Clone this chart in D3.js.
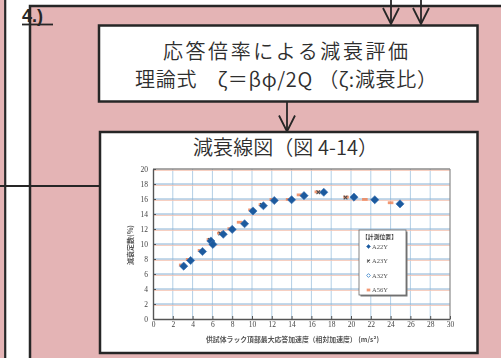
<!DOCTYPE html>
<html>
<head>
<meta charset="utf-8">
<script src="https://cdn.jsdelivr.net/npm/d3@7"></script>
<style>
  html, body { margin: 0; padding: 0; background: #fff; }
  svg { display: block; }
</style>
</head>
<body>
<svg id="fig" width="501" height="358"></svg>
<script>
// ---- chart data: damping ratio vs. peak response acceleration ----
const xTickValues = [0, 2, 4, 6, 8, 10, 12, 14, 16, 18, 20, 22, 24, 26, 28, 30];
const yTickValues = [0, 2, 4, 6, 8, 10, 12, 14, 16, 18, 20];

const seriesNames = ["A22Y", "A23Y", "A32Y", "A56Y"];

const a22yX = [3.1, 3.8, 5.0, 5.85, 6.05, 7.1, 8.0, 9.25, 10.1, 11.15, 12.25, 14.0, 15.25, 17.25, 20.3, 22.4, 24.95];
const a22yY = [7.05, 7.8, 9.0, 10.4, 9.95, 11.3, 11.95, 12.7, 14.4, 15.1, 15.8, 15.9, 16.45, 16.9, 16.25, 15.9, 15.35];

const a23yX = [5.75, 6.8, 11.0, 16.7, 19.45];
const a23yY = [10.55, 11.4, 15.2, 16.9, 16.2];

const a32yX = [3.1, 6.0, 10.1, 15.3, 22.4];
const a32yY = [7.0, 10.0, 14.35, 16.45, 15.85];

const a56yX = [2.9, 3.6, 4.8, 5.7, 6.75, 7.8, 8.75, 9.9, 10.95, 12.05, 13.7, 14.8, 16.6, 19.5, 21.4, 24.0];
const a56yY = [7.2, 7.95, 9.15, 10.6, 11.45, 12.05, 12.9, 14.55, 15.25, 15.95, 15.95, 16.55, 16.95, 16.25, 15.95, 15.5];

// ---- flowchart texts ----
const stepLabel = "4.)";
const box1Lines = ["応答倍率による減衰評価", "理論式　ζ＝βφ/2Q （ζ:減衰比）"];
const box2Title = "減衰線図（図 4-14）";
const yAxisTitle = "減衰定数(%)";
const xAxisTitle = "供試体ラック頂部最大応答加速度（相対加速度） (m/s²)";
const legendTitle = "【計測位置】";

const PINK = "#e4b4b5";
const INK = "#262626";
const CJK = "'Noto Sans CJK JP', 'Noto Sans', sans-serif";

const svg = d3.select("#fig");
const defs = svg.append("defs");
defs.append("filter").attr("id", "soft")
  .attr("x", "-5%").attr("y", "-5%").attr("width", "110%").attr("height", "110%")
  .append("feGaussianBlur").attr("stdDeviation", 0.45);

svg.append("rect").attr("width", 501).attr("height", 358).attr("fill", "#fff");

// ---- flowchart frame ----
svg.append("rect").attr("x", 0).attr("y", 0).attr("width", 4.5).attr("height", 358).attr("fill", PINK);
svg.append("rect").attr("x", 30).attr("y", 6).attr("width", 480).attr("height", 360)
  .attr("fill", PINK).attr("stroke", INK).attr("stroke-width", 2.5);
svg.append("line").attr("x1", 5.2).attr("x2", 5.2).attr("y1", 0).attr("y2", 358)
  .attr("stroke", INK).attr("stroke-width", 2.2);
svg.append("line").attr("x1", 0).attr("x2", 100).attr("y1", 186).attr("y2", 186)
  .attr("stroke", INK).attr("stroke-width", 2);

// step label
svg.append("text").attr("x", 22).attr("y", 21.5)
  .attr("font-family", "'Liberation Sans', Arial, sans-serif").attr("font-weight", "bold")
  .attr("font-size", 18).attr("fill", INK).text(stepLabel);
svg.append("line").attr("x1", 22).attr("x2", 53).attr("y1", 24.5).attr("y2", 24.5)
  .attr("stroke", INK).attr("stroke-width", 1.8);

// arrows
function arrow(x, y0, y1) {
  svg.append("line").attr("x1", x).attr("x2", x).attr("y1", y0).attr("y2", y1)
    .attr("stroke", INK).attr("stroke-width", 1.8);
  svg.append("path")
    .attr("d", `M${x - 8},${y1 - 16} L${x},${y1} L${x + 8},${y1 - 16}`)
    .attr("fill", "none").attr("stroke", INK).attr("stroke-width", 1.8);
}
arrow(391, 0, 24);
arrow(421, 0, 24);
arrow(287, 102, 131.5);

// box 1
svg.append("rect").attr("x", 99).attr("y", 25.5).attr("width", 378.5).attr("height", 76)
  .attr("fill", "#fff").attr("stroke", INK).attr("stroke-width", 2.5);
const box1Spans = [[163, 245, 58.5], [135, 302, 86.5]];
box1Lines.forEach((t, i) => {
  svg.append("text").attr("x", box1Spans[i][0]).attr("y", box1Spans[i][2])
    .attr("font-family", CJK).attr("font-weight", 350).attr("font-size", 20).attr("fill", "#2e2e2e")
    .attr("textLength", box1Spans[i][1]).attr("lengthAdjust", "spacing").text(t);
});

// box 2
svg.append("rect").attr("x", 100).attr("y", 132).attr("width", 377.5).attr("height", 221)
  .attr("fill", "#fff").attr("stroke", INK).attr("stroke-width", 2.5);
svg.append("text").attr("x", 193).attr("y", 154.5)
  .attr("font-family", CJK).attr("font-weight", 350).attr("font-size", 20).attr("fill", "#2e2e2e")
  .attr("textLength", 185).attr("lengthAdjust", "spacing").text(box2Title);

// ---- embedded scatter chart ----
const plot = { left: 153, right: 450, top: 169, bottom: 319 };
const x = d3.scaleLinear().domain([0, 30]).range([plot.left, plot.right]);
const y = d3.scaleLinear().domain([0, 20]).range([plot.bottom, plot.top]);

const g = svg.append("g").attr("filter", "url(#soft)");

// grid
g.selectAll("line.vgrid").data(xTickValues.slice(1, -1)).join("line")
  .attr("x1", d => x(d)).attr("x2", d => x(d)).attr("y1", plot.top).attr("y2", plot.bottom)
  .attr("stroke", "#b3cfe6").attr("stroke-width", 1);
g.selectAll("line.hgridp").data(yTickValues.slice(1)).join("line")
  .attr("x1", plot.left).attr("x2", plot.right).attr("y1", d => y(d) + 1.3).attr("y2", d => y(d) + 1.3)
  .attr("stroke", "#f6c3b2").attr("stroke-width", 1);
g.selectAll("line.hgrid").data(yTickValues.slice(1, -1)).join("line")
  .attr("x1", plot.left).attr("x2", plot.right).attr("y1", d => y(d)).attr("y2", d => y(d))
  .attr("stroke", "#86b2d6").attr("stroke-width", 1);

// frame
g.append("line").attr("x1", plot.left).attr("x2", plot.right).attr("y1", plot.top).attr("y2", plot.top)
  .attr("stroke", "#555").attr("stroke-width", 1.2);
g.append("line").attr("x1", plot.right).attr("x2", plot.right).attr("y1", plot.top).attr("y2", plot.bottom)
  .attr("stroke", "#8a8a8a").attr("stroke-width", 1.2);

// axes
const yAxis = g.append("g").attr("transform", `translate(${plot.left},0)`)
  .call(d3.axisLeft(y).tickValues(yTickValues).tickSize(-3).tickPadding(5).tickSizeOuter(0));
const xAxis = g.append("g").attr("transform", `translate(0,${plot.bottom})`)
  .call(d3.axisBottom(x).tickValues(xTickValues).tickSize(-3).tickPadding(3).tickSizeOuter(0));
[yAxis, xAxis].forEach(a => {
  a.select(".domain").attr("stroke", "#555").attr("stroke-width", 1.4);
  a.selectAll(".tick line").attr("stroke", "#555");
  a.selectAll("text").attr("font-family", "'Liberation Serif', 'DejaVu Serif', serif")
    .attr("font-size", 7.5).attr("fill", "#444");
});

// axis titles
g.append("text").attr("transform", "translate(133,245) rotate(-90)")
  .attr("text-anchor", "middle").attr("font-family", CJK).attr("font-weight", "bold")
  .attr("font-size", 7).attr("fill", "#555").text(yAxisTitle);
g.append("text").attr("x", 206).attr("y", 341.5)
  .attr("font-family", CJK).attr("font-weight", "bold")
  .attr("font-size", 7).attr("fill", "#555")
  .attr("textLength", 173).attr("lengthAdjust", "spacingAndGlyphs").text(xAxisTitle);

// marker painters (r = half-diagonal of a square diamond)
const diamondPath = r => `M0,${-r}L${r},0L0,${r}L${-r},0Z`;
function drawA22Y(sel, r) {
  sel.attr("d", diamondPath(r)).attr("fill", "#1f5a9e").attr("stroke", "#3570b4").attr("stroke-width", 0.6);
}
function drawA23Y(sel, r) {
  sel.attr("d", `M${-r},${-r}L${r},${r}M${-r},${r}L${r},${-r}`)
    .attr("fill", "none").attr("stroke", "#4a4a4a").attr("stroke-width", 1.1);
}
function drawA32Y(sel, r) {
  sel.attr("d", diamondPath(r)).attr("fill", "none").attr("stroke", "#5b9ad6").attr("stroke-width", 1);
}
function drawA56Y(sel, w) {
  sel.attr("d", `M${-w},-1.4H${w}V1.4H${-w}Z`).attr("fill", "#f0865a").attr("opacity", 0.85);
}

const pts = (xs, ys) => xs.map((v, i) => [v, ys[i]]);

g.selectAll("path.a56").data(pts(a56yX, a56yY)).join("path")
  .attr("transform", d => `translate(${x(d[0])},${y(d[1])})`).call(drawA56Y, 2.8);
g.selectAll("path.a23").data(pts(a23yX, a23yY)).join("path")
  .attr("transform", d => `translate(${x(d[0])},${y(d[1])})`).call(drawA23Y, 1.8);
g.selectAll("path.a32").data(pts(a32yX, a32yY)).join("path")
  .attr("transform", d => `translate(${x(d[0])},${y(d[1])})`).call(drawA32Y, 3.2);
g.selectAll("path.a22").data(pts(a22yX, a22yY)).join("path")
  .attr("transform", d => `translate(${x(d[0])},${y(d[1])})`).call(drawA22Y, 4.1);

// legend
const lg = g.append("g").attr("transform", "translate(359,230)");
lg.append("rect").attr("x", 1.5).attr("y", 1.5).attr("width", 47).attr("height", 65).attr("fill", "#777");
lg.append("rect").attr("width", 47).attr("height", 65).attr("fill", "#fff").attr("stroke", "#666").attr("stroke-width", 0.8);
lg.append("text").attr("x", 3).attr("y", 9).attr("font-family", CJK).attr("font-weight", "bold")
  .attr("font-size", 6).attr("fill", "#444").attr("textLength", 35).attr("lengthAdjust", "spacingAndGlyphs").text(legendTitle);
const painters = [[drawA22Y, 2], [drawA23Y, 1.4], [drawA32Y, 1.9], [drawA56Y, 1.8]];
seriesNames.forEach((name, i) => {
  const yy = 16.5 + i * 14.5;
  lg.append("path").attr("transform", `translate(9.5,${yy})`).call(painters[i][0], painters[i][1]);
  lg.append("text").attr("x", 13).attr("y", yy + 2.3)
    .attr("font-family", "'Liberation Serif', serif").attr("font-size", 6.5).attr("fill", "#555").text(name);
});
</script>
</body>
</html>
